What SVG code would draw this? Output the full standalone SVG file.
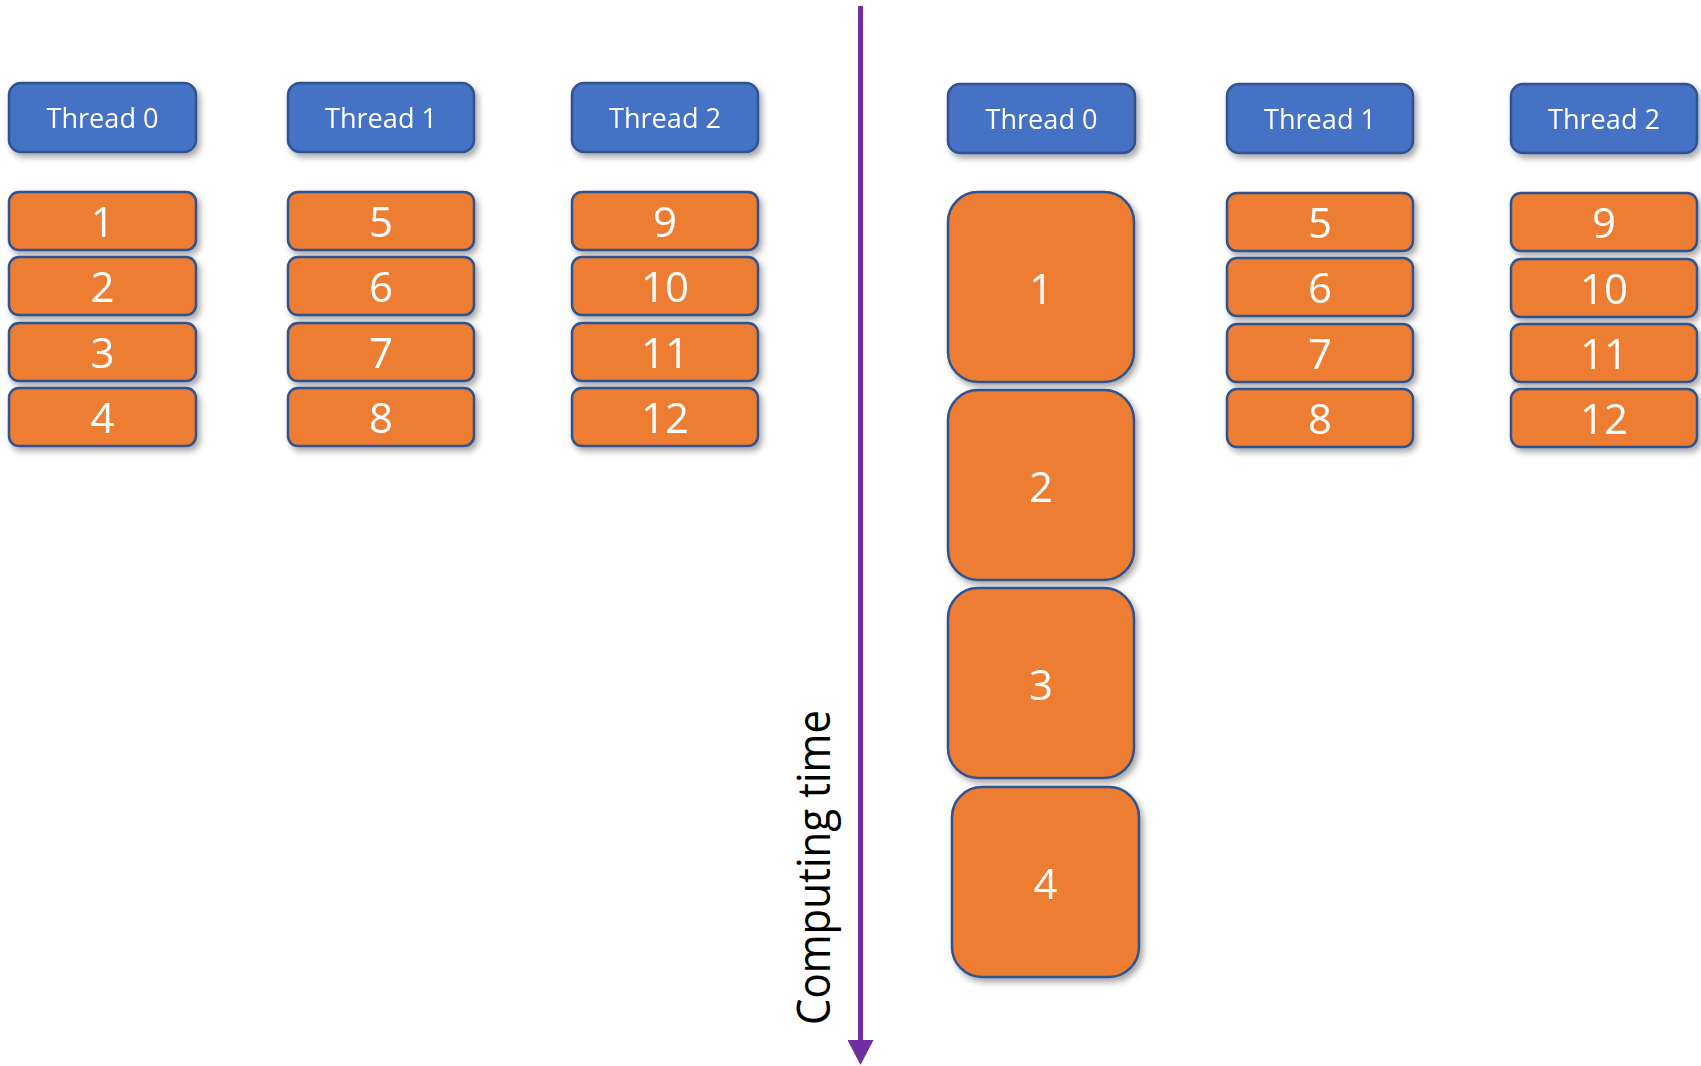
<svg xmlns="http://www.w3.org/2000/svg" width="1701" height="1066" viewBox="0 0 1701 1066">
  <style>
    .hdr { fill: #4472C4; stroke: #2F528F; stroke-width: 2.5; }
    .task { fill: #ED7D31; stroke: #2F528F; stroke-width: 2.5; }
    .hdr-t { font-family: "Open Sans", "Noto Sans", sans-serif; font-size: 28px; fill: #FFFFFF; text-anchor: middle; }
    .num { font-family: "Open Sans", "Noto Sans", sans-serif; font-size: 42px; fill: #FFFFFF; text-anchor: middle; }
    .axis-t { font-family: "Open Sans", "Noto Sans", sans-serif; font-size: 46px; fill: #000000; }
  </style>
  <defs>
    <filter id="shadow" x="-10%" y="-10%" width="130%" height="130%">
      <feDropShadow dx="3" dy="4" stdDeviation="3" flood-color="#000000" flood-opacity="0.35"/>
    </filter>
    <marker id="arrowhead" markerUnits="userSpaceOnUse" markerWidth="26" markerHeight="26" refX="0" refY="13" orient="auto" viewBox="0 0 26 26">
      <polygon points="0,0 25,13 0,26" fill="#7030A0"/>
    </marker>
  </defs>
  <rect width="1701" height="1066" fill="#FFFFFF"/>

  <!-- time axis -->
  <g id="connectors">
    <line x1="860.5" y1="6" x2="860.5" y2="1040" stroke="#7030A0" stroke-width="5" marker-end="url(#arrowhead)"/>
    <text class="axis-t" transform="translate(830,1025) rotate(-90)" textLength="315" lengthAdjust="spacingAndGlyphs">Computing time</text>
  </g>

  <!-- left: equal-cost chunks -->
  <g id="left-thread0" filter="url(#shadow)">
    <rect class="hdr" x="9" y="83" width="187" height="69" rx="12"/>
    <text class="hdr-t" x="102.5" y="128" textLength="112" lengthAdjust="spacingAndGlyphs">Thread 0</text>
  </g>
  <g id="left-thread1" filter="url(#shadow)">
    <rect class="hdr" x="288" y="83" width="186" height="69" rx="12"/>
    <text class="hdr-t" x="381" y="128" textLength="112" lengthAdjust="spacingAndGlyphs">Thread 1</text>
  </g>
  <g id="left-thread2" filter="url(#shadow)">
    <rect class="hdr" x="572" y="83" width="186" height="69" rx="12"/>
    <text class="hdr-t" x="665" y="128" textLength="112" lengthAdjust="spacingAndGlyphs">Thread 2</text>
  </g>

  <g id="left-task1" filter="url(#shadow)"><rect class="task" x="9" y="192" width="187" height="58" rx="10"/><text class="num" x="102.5" y="237">1</text></g>
  <g id="left-task2" filter="url(#shadow)"><rect class="task" x="9" y="257" width="187" height="58" rx="10"/><text class="num" x="102.5" y="302">2</text></g>
  <g id="left-task3" filter="url(#shadow)"><rect class="task" x="9" y="323" width="187" height="58" rx="10"/><text class="num" x="102.5" y="368">3</text></g>
  <g id="left-task4" filter="url(#shadow)"><rect class="task" x="9" y="388" width="187" height="58" rx="10"/><text class="num" x="102.5" y="433">4</text></g>

  <g id="left-task5" filter="url(#shadow)"><rect class="task" x="288" y="192" width="186" height="58" rx="10"/><text class="num" x="381" y="237">5</text></g>
  <g id="left-task6" filter="url(#shadow)"><rect class="task" x="288" y="257" width="186" height="58" rx="10"/><text class="num" x="381" y="302">6</text></g>
  <g id="left-task7" filter="url(#shadow)"><rect class="task" x="288" y="323" width="186" height="58" rx="10"/><text class="num" x="381" y="368">7</text></g>
  <g id="left-task8" filter="url(#shadow)"><rect class="task" x="288" y="388" width="186" height="58" rx="10"/><text class="num" x="381" y="433">8</text></g>

  <g id="left-task9" filter="url(#shadow)"><rect class="task" x="572" y="192" width="186" height="58" rx="10"/><text class="num" x="665" y="237">9</text></g>
  <g id="left-task10" filter="url(#shadow)"><rect class="task" x="572" y="257" width="186" height="58" rx="10"/><text class="num" x="665" y="302">10</text></g>
  <g id="left-task11" filter="url(#shadow)"><rect class="task" x="572" y="323" width="186" height="58" rx="10"/><text class="num" x="665" y="368">11</text></g>
  <g id="left-task12" filter="url(#shadow)"><rect class="task" x="572" y="388" width="186" height="58" rx="10"/><text class="num" x="665" y="433">12</text></g>

  <!-- right: thread 0 gets heavy chunks -->
  <g id="right-thread0" filter="url(#shadow)">
    <rect class="hdr" x="948" y="84" width="187" height="69" rx="12"/>
    <text class="hdr-t" x="1041.5" y="129" textLength="112" lengthAdjust="spacingAndGlyphs">Thread 0</text>
  </g>
  <g id="right-thread1" filter="url(#shadow)">
    <rect class="hdr" x="1227" y="84" width="186" height="69" rx="12"/>
    <text class="hdr-t" x="1320" y="129" textLength="112" lengthAdjust="spacingAndGlyphs">Thread 1</text>
  </g>
  <g id="right-thread2" filter="url(#shadow)">
    <rect class="hdr" x="1511" y="84" width="186" height="69" rx="12"/>
    <text class="hdr-t" x="1604" y="129" textLength="112" lengthAdjust="spacingAndGlyphs">Thread 2</text>
  </g>

  <g id="right-task1" filter="url(#shadow)"><rect class="task" x="948" y="192" width="186" height="190" rx="30"/><text class="num" x="1041" y="304">1</text></g>
  <g id="right-task2" filter="url(#shadow)"><rect class="task" x="948" y="390" width="186" height="190" rx="30"/><text class="num" x="1041" y="502">2</text></g>
  <g id="right-task3" filter="url(#shadow)"><rect class="task" x="948" y="588" width="186" height="190" rx="30"/><text class="num" x="1041" y="700">3</text></g>
  <g id="right-task4" filter="url(#shadow)"><rect class="task" x="952" y="787" width="187" height="190" rx="30"/><text class="num" x="1045.5" y="899">4</text></g>

  <g id="right-task5" filter="url(#shadow)"><rect class="task" x="1227" y="193" width="186" height="58" rx="10"/><text class="num" x="1320" y="238">5</text></g>
  <g id="right-task6" filter="url(#shadow)"><rect class="task" x="1227" y="258" width="186" height="58" rx="10"/><text class="num" x="1320" y="303">6</text></g>
  <g id="right-task7" filter="url(#shadow)"><rect class="task" x="1227" y="324" width="186" height="58" rx="10"/><text class="num" x="1320" y="369">7</text></g>
  <g id="right-task8" filter="url(#shadow)"><rect class="task" x="1227" y="389" width="186" height="58" rx="10"/><text class="num" x="1320" y="434">8</text></g>

  <g id="right-task9" filter="url(#shadow)"><rect class="task" x="1511" y="193" width="186" height="58" rx="10"/><text class="num" x="1604" y="238">9</text></g>
  <g id="right-task10" filter="url(#shadow)"><rect class="task" x="1511" y="259" width="186" height="58" rx="10"/><text class="num" x="1604" y="304">10</text></g>
  <g id="right-task11" filter="url(#shadow)"><rect class="task" x="1511" y="324" width="186" height="58" rx="10"/><text class="num" x="1604" y="369">11</text></g>
  <g id="right-task12" filter="url(#shadow)"><rect class="task" x="1511" y="389" width="186" height="58" rx="10"/><text class="num" x="1604" y="434">12</text></g>
</svg>
